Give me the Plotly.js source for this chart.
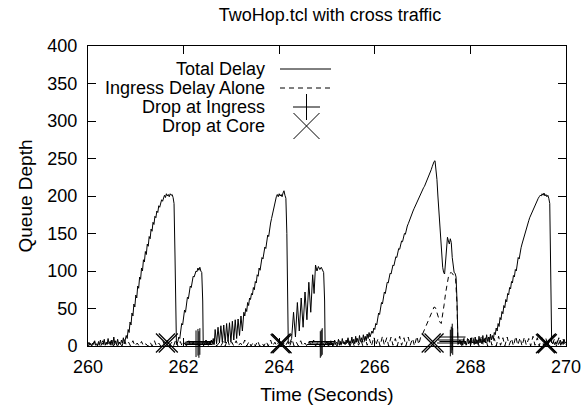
<!DOCTYPE html>
<html>
<head>
<meta charset="utf-8">
<script src="https://cdn.plot.ly/plotly-3.0.1.min.js"></script>
<style>html,body{margin:0;padding:0;background:#fff;}#chart{width:585px;height:405px;}</style>
</head>
<body>
<div id="chart"></div>
<script>
// ---- Data ----
const totalTime = [
260.00,260.02,260.04,260.06,260.08,260.10,260.12,260.14,260.16,260.18,260.20,260.22,260.24,260.26,260.28,260.30,260.32,260.34,260.36,260.38,260.40,260.42,260.44,260.46,260.48,260.50,260.52,260.54,260.56,260.58,260.60,260.62,260.64,260.66,260.68,260.70,260.72,260.74,260.76,
260.78,260.80,260.82,260.84,260.86,260.88,260.90,260.92,260.94,260.96,260.98,261.00,261.02,261.04,261.06,261.08,261.10,261.12,261.14,261.16,261.18,261.20,261.22,261.24,261.26,261.28,261.30,261.32,261.34,261.36,261.38,261.40,261.42,261.44,261.46,261.48,261.50,261.52,261.54,261.56,261.58,261.60,261.62,261.64,261.66,261.68,261.70,261.72,261.74,261.76,261.78,261.80,261.82,261.84,261.85,
261.86,261.88,261.90,261.92,261.94,261.96,261.98,262.00,262.02,262.04,262.06,262.08,262.10,262.12,262.14,262.16,262.18,262.20,262.22,262.24,262.26,262.28,262.30,262.32,262.34,262.36,262.38,262.40,262.41,
262.44,262.46,262.48,262.50,262.52,262.54,262.56,262.58,262.60,262.62,262.64,
262.66,262.69,262.72,262.75,262.78,262.81,262.84,262.87,262.90,262.93,262.96,262.99,263.02,263.05,263.08,263.11,263.14,263.17,263.20,263.23,
263.26,263.28,263.30,263.32,263.34,263.36,263.38,263.40,263.42,263.44,263.46,263.48,263.50,263.52,263.54,263.56,263.58,263.60,263.62,263.64,263.66,263.68,263.70,263.72,263.74,263.76,263.78,263.80,263.82,263.84,263.86,263.88,263.90,263.92,263.94,263.96,263.98,264.00,264.02,264.04,264.06,264.08,264.10,264.12,264.14,264.16,264.18,264.19,
264.22,264.26,264.30,264.34,264.38,264.42,264.46,264.50,264.54,264.58,264.62,264.66,264.70,264.73,264.76,264.79,264.82,264.85,264.88,264.91,264.93,264.95,264.96,
264.98,265.00,265.02,265.04,265.06,265.08,265.10,265.12,265.14,265.16,265.18,265.20,265.22,265.24,265.26,265.28,265.30,265.32,265.34,265.36,265.38,265.40,265.42,265.44,265.46,265.48,265.50,265.52,265.54,265.56,265.58,265.60,265.62,265.64,265.66,265.68,265.70,265.72,265.74,265.76,265.78,265.80,265.82,265.84,265.86,265.88,265.90,
265.92,265.94,265.96,265.98,266.00,266.02,266.04,266.06,266.08,266.10,266.12,266.14,266.16,266.18,266.20,266.22,266.24,266.26,266.28,266.30,266.32,266.34,266.36,266.38,266.40,266.42,266.44,266.46,266.48,266.50,266.52,266.54,266.56,266.58,266.60,266.62,266.64,266.66,266.68,266.70,266.72,266.74,266.76,266.78,266.80,266.82,266.84,266.86,266.88,266.90,266.92,266.94,266.96,266.98,267.00,267.02,267.04,267.06,267.08,267.10,267.12,267.14,267.16,267.18,267.20,267.22,
267.24,267.26,267.28,267.30,267.32,267.34,267.36,267.38,267.40,267.42,267.44,267.46,267.48,267.50,267.52,267.54,267.56,267.58,267.60,267.62,267.64,267.66,267.68,267.70,267.72,267.74,
267.76,267.78,267.80,267.82,267.84,267.86,267.88,267.90,267.92,267.94,267.96,267.98,268.00,268.02,268.04,268.06,268.08,268.10,268.12,268.14,268.16,268.18,268.20,268.22,268.24,268.26,268.28,268.30,268.32,268.34,268.36,268.38,268.40,268.42,268.44,268.46,268.48,
268.50,268.52,268.54,268.56,268.58,268.60,268.62,268.64,268.66,268.68,268.70,268.72,268.74,268.76,268.78,268.80,268.82,268.84,268.86,268.88,268.90,268.92,268.94,268.96,268.98,269.00,269.02,269.04,269.06,269.08,269.10,269.12,269.14,269.16,269.18,269.20,269.22,269.24,269.26,269.28,269.30,269.32,269.34,269.36,269.38,269.40,269.42,269.44,269.46,269.48,269.50,269.52,269.54,269.56,269.58,269.60,269.62,269.64,269.66,269.68,269.70,
269.72,269.74,269.76,269.78,269.80,269.82,269.84,269.86,269.88,269.90,269.92,269.94,269.96,269.98,270.00
];
const totalDelay = [
2,5,1,3,0,4,2,7,1,3,0,6,2,8,1,4,2,9,1,5,2,10,3,6,1,8,2,12,3,7,1,9,3,5,2,8,4,11,3,
8,14,10,22,18,32,28,44,40,56,52,68,64,80,77,92,89,104,100,115,112,126,122,136,133,146,143,156,153,165,162,173,171,180,178,187,185,192,195,193,199,201,198,203,200,202,199,203,201,202,198,190,120,40,2,
3,6,12,10,22,30,28,40,48,45,58,65,63,74,80,78,88,93,92,98,100,99,104,101,105,100,98,60,5,
3,7,2,5,1,6,2,8,3,10,2,
22,3,25,4,27,5,28,4,30,6,31,5,33,8,35,10,36,14,40,20,
45,40,50,46,58,54,64,62,70,68,78,75,86,84,95,93,104,101,112,118,116,126,132,130,142,148,146,158,164,170,176,184,190,196,199,202,199,203,200,202,199,204,207,201,197,150,60,3,
4,10,45,12,58,20,64,25,72,35,85,45,95,70,108,100,106,102,105,100,98,60,4,
3,6,2,5,1,7,2,4,1,8,2,5,3,9,1,6,2,10,3,5,2,8,4,11,2,7,3,12,4,9,3,13,5,10,4,14,6,11,5,15,8,13,7,16,10,18,12,
15,20,17,24,22,30,28,38,44,42,52,58,56,66,72,70,80,85,84,92,97,96,104,108,107,115,119,118,126,130,129,136,140,139,146,150,149,156,160,163,167,170,173,177,180,183,186,189,192,195,198,201,204,206,209,211,213,216,218,221,224,227,231,235,239,243,
246,247,238,222,200,178,155,135,118,105,98,96,112,135,145,140,136,143,138,118,104,98,97,92,60,5,
3,8,2,6,1,9,3,5,2,10,3,7,2,11,4,6,2,12,3,8,2,13,4,9,3,14,5,10,4,15,6,12,5,16,8,14,9,
18,15,24,20,30,26,38,35,46,43,54,51,62,59,70,68,78,76,86,84,94,92,102,100,110,118,116,126,131,136,141,146,150,155,159,163,167,171,174,178,181,184,187,190,192,195,197,199,201,200,203,201,204,200,202,199,201,197,190,100,5,
3,6,2,5,3,7,2,4,8,3,6,2,9,4,5
];
const ingressTime = [
260.00,260.04,260.08,260.13,260.17,260.22,260.26,260.31,260.35,260.40,260.44,260.49,260.53,260.58,260.62,260.67,260.71,260.76,260.80,260.85,260.89,260.94,260.98,
261.03,261.07,261.12,261.16,261.21,261.25,261.30,261.34,261.39,261.43,261.48,261.52,261.57,261.61,261.66,261.70,261.75,261.79,261.84,261.88,261.93,261.97,
262.02,262.06,262.11,262.15,262.20,262.24,262.29,262.33,262.38,262.42,262.47,262.51,262.56,262.60,262.65,262.69,262.74,262.78,262.83,262.87,262.92,262.96,
263.01,263.05,263.10,263.14,263.19,263.23,263.28,263.32,263.37,263.41,263.46,263.50,263.55,263.59,263.64,263.68,263.73,263.77,263.82,263.86,263.91,263.95,
264.00,264.04,264.09,264.13,264.18,264.22,264.27,264.31,264.36,264.40,264.45,264.49,264.54,264.58,264.63,264.67,264.72,264.76,264.81,264.85,264.90,264.94,264.99,
265.03,265.08,265.12,265.17,265.21,265.26,265.30,265.35,265.39,265.44,265.48,265.53,265.57,265.62,265.66,265.71,265.75,265.80,265.84,265.89,265.93,265.98,
266.02,266.07,266.11,266.16,266.20,266.25,266.29,266.34,266.38,266.43,266.47,266.52,266.56,266.61,266.65,266.70,266.74,266.79,266.83,266.88,266.92,266.96,
267.00,267.04,267.08,267.12,267.16,267.20,267.24,267.27,267.30,267.33,267.36,267.39,267.42,267.45,267.48,267.51,267.54,267.57,267.60,267.63,267.66,267.69,267.72,267.74,
267.78,267.82,267.87,267.91,267.96,268.00,268.05,268.09,268.14,268.18,268.23,268.27,268.32,268.36,268.41,268.45,268.50,268.54,268.59,268.63,268.68,268.72,268.77,268.81,268.86,268.90,268.95,268.99,
269.04,269.08,269.13,269.17,269.22,269.26,269.31,269.35,269.40,269.44,269.49,269.53,269.58,269.62,269.67,269.71,269.76,269.80,269.85,269.89,269.94,269.98,270.00
];
const ingressDelay = [
0,4,0,6,0,3,0,7,0,5,0,8,0,4,0,6,0,9,1,5,0,7,0,
4,0,6,0,3,0,5,0,7,0,4,0,6,0,8,0,5,0,9,0,6,0,
4,0,7,0,5,0,3,0,6,0,8,0,5,0,7,0,4,0,6,0,9,0,
5,0,7,0,4,0,8,0,6,0,5,0,7,0,4,0,6,0,8,0,5,0,
7,0,4,0,6,0,9,0,5,0,7,0,4,0,6,0,8,0,5,0,7,0,4,
0,6,0,5,0,8,0,6,0,9,0,7,0,10,1,8,0,11,1,9,0,12,
1,10,0,13,1,11,0,12,1,10,0,13,1,11,0,12,1,10,0,13,2,12,
16,22,30,36,42,48,52,51,45,38,32,30,40,55,70,82,92,97,98,96,93,90,55,2,
8,0,11,1,9,0,12,1,10,0,13,1,11,0,12,1,10,0,13,1,11,0,12,1,10,0,13,1,
11,0,12,1,10,0,13,1,11,0,12,1,10,0,12,1,10,0,11,1,9,0,3
];
const ingressDropTime = [262.26,262.30,262.32,262.34,264.86,264.88,264.90,267.58,267.60,267.62,267.63];
const ingressDropDepth = [3,5,2,6,2,4,6,4,8,12,6];
const coreDropTime = [261.62,261.68,264.02,264.04,264.06,267.18,267.24,269.57,269.59,269.61];
const coreDropDepth = [4,4,3,4,3,4,4,3,4,3];

const xTicks = [260,262,264,266,268,270];
const yTicks = [0,50,100,150,200,250,300,350,400];
const legendLabels = ['Total Delay','Ingress Delay Alone','Drop at Ingress','Drop at Core'];

// ---- Layout helpers (pixel -> paper) ----
const W = 585, H = 405;
const L = 88, R = 566, T = 46, B = 346;
const px = v => (v - L) / (R - L);
const py = v => (B - v) / (B - T);

const FONT = 'Liberation Sans, Arial, Helvetica, sans-serif';

const traces = [
  {x: totalTime, y: totalDelay, type: 'scatter', mode: 'lines', line: {color: '#000', width: 1}, name: legendLabels[0], hoverinfo: 'skip'},
  {x: ingressTime, y: ingressDelay, type: 'scatter', mode: 'lines', line: {color: '#000', width: 1, dash: '5px,4px'}, name: legendLabels[1], hoverinfo: 'skip'},
  {x: ingressDropTime, y: ingressDropDepth, type: 'scatter', mode: 'markers', marker: {symbol: 'cross-thin-open', size: 19, color: '#000', line: {color: '#000', width: 1}}, name: legendLabels[2], cliponaxis: false},
  {x: coreDropTime, y: coreDropDepth, type: 'scatter', mode: 'markers', marker: {symbol: 'x-thin-open', size: 19, color: '#000', line: {color: '#000', width: 1.2}}, name: legendLabels[3], cliponaxis: false}
];

// custom gnuplot-style legend: text on the left, sample on the right
const legY = [69, 88, 107, 126];
const textRight = 267;
const sampleL = 280, sampleR = 331, sampleC = 306.5;
const annotations = legendLabels.map((t, i) => ({
  text: t, xref: 'paper', yref: 'paper', x: px(textRight), y: py(legY[i]),
  xanchor: 'right', yanchor: 'middle', showarrow: false,
  font: {family: FONT, size: 18, color: '#000'}
}));
const shapes = [
  {type: 'line', xref: 'paper', yref: 'paper', x0: px(sampleL), x1: px(sampleR), y0: py(legY[0]), y1: py(legY[0]), line: {color: '#000', width: 1}},
  {type: 'line', xref: 'paper', yref: 'paper', x0: px(sampleL), x1: px(sampleR), y0: py(legY[1]), y1: py(legY[1]), line: {color: '#000', width: 1, dash: '5px,4px'}},
  {type: 'line', xref: 'paper', yref: 'paper', x0: px(sampleC - 13.5), x1: px(sampleC + 13.5), y0: py(legY[2]), y1: py(legY[2]), line: {color: '#000', width: 1}},
  {type: 'line', xref: 'paper', yref: 'paper', x0: px(sampleC), x1: px(sampleC), y0: py(legY[2] - 13), y1: py(legY[2] + 13), line: {color: '#000', width: 1}},
  {type: 'line', xref: 'paper', yref: 'paper', x0: px(sampleC - 13), x1: px(sampleC + 13), y0: py(legY[3] - 13), y1: py(legY[3] + 13), line: {color: '#000', width: 1}},
  {type: 'line', xref: 'paper', yref: 'paper', x0: px(sampleC - 13), x1: px(sampleC + 13), y0: py(legY[3] + 13), y1: py(legY[3] - 13), line: {color: '#000', width: 1}}
];

const axisCommon = {
  showgrid: false, zeroline: false, showline: true, mirror: 'allticks',
  linecolor: '#000', linewidth: 1, ticks: 'inside', ticklen: 8, tickwidth: 1, tickcolor: '#000',
  tickfont: {family: FONT, size: 18, color: '#000'}
};

const layout = {
  width: W, height: H,
  margin: {l: L, r: W - R, t: T, b: H - B, pad: 0},
  paper_bgcolor: '#fff', plot_bgcolor: '#fff',
  showlegend: false,
  title: {text: 'TwoHop.tcl with cross traffic', x: px(330), xref: 'paper', xanchor: 'center', y: 1 - 15 / H, yanchor: 'middle', font: {family: FONT, size: 18, color: '#000'}},
  xaxis: Object.assign({}, axisCommon, {range: [260, 270], tickvals: xTicks, ticktext: xTicks.map(String), ticklabelstandoff: 4,
    title: {text: 'Time (Seconds)', standoff: 13, font: {family: FONT, size: 19, color: '#000'}}}),
  yaxis: Object.assign({}, axisCommon, {range: [0, 400], tickvals: yTicks, ticktext: yTicks.map(String), ticklabelstandoff: 6,
    title: {text: 'Queue Depth', standoff: 9, font: {family: FONT, size: 19, color: '#000'}}}),
  annotations: annotations,
  shapes: shapes
};

Plotly.newPlot('chart', traces, layout, {staticPlot: true, displayModeBar: false});
</script>
</body>
</html>
